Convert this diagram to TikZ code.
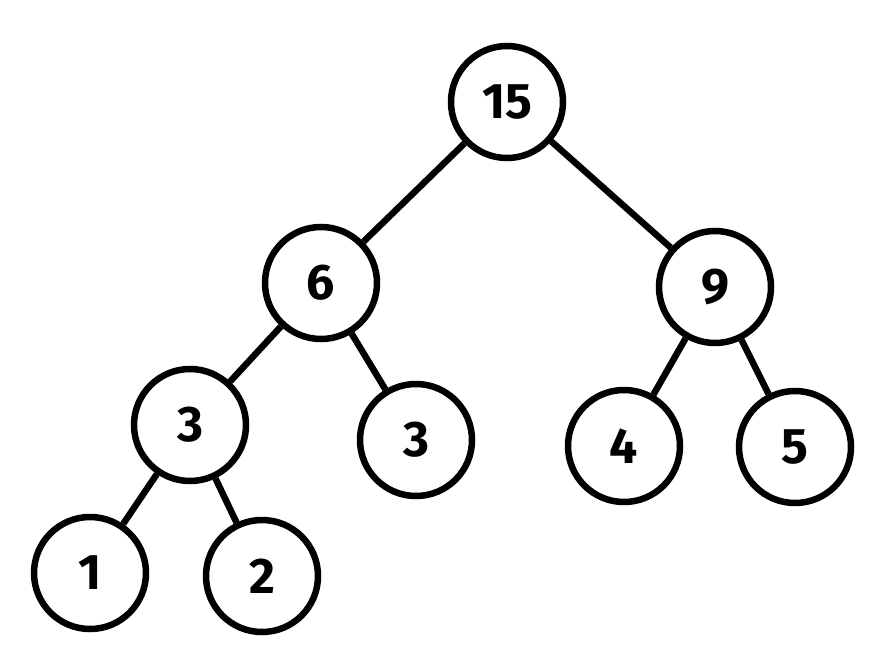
\documentclass[tikz,border=0pt]{standalone}
\usepackage{fontspec}
\setmainfont{Fira Sans}
\begin{document}
\begin{tikzpicture}[x=1pt,y=-1pt,
  tnode/.style={circle,draw=black,line width=6.5pt,minimum size=112pt,inner sep=0pt,fill=white,font=\fontsize{50}{50}\selectfont\bfseries},
  edge/.style={line width=6.5pt,draw=black}]
\useasboundingbox (0,0) rectangle (890,671);
\node[tnode] (n15) at (507,102) {15};
\node[tnode] (n6) at (321,283) {6};
\node[tnode] (n9) at (715,287) {9};
\node[tnode] (n3a) at (190,425) {3};
\node[tnode] (n3b) at (416,440) {3};
\node[tnode] (n4) at (624,446) {4};
\node[tnode] (n5) at (795,447) {5};
\node[tnode] (n1) at (90,573) {1};
\node[tnode] (n2) at (262,576) {2};
\draw[edge] (n15) -- (n6);
\draw[edge] (n15) -- (n9);
\draw[edge] (n6) -- (n3a);
\draw[edge] (n6) -- (n3b);
\draw[edge] (n9) -- (n4);
\draw[edge] (n9) -- (n5);
\draw[edge] (n3a) -- (n1);
\draw[edge] (n3a) -- (n2);
\end{tikzpicture}
\end{document}
